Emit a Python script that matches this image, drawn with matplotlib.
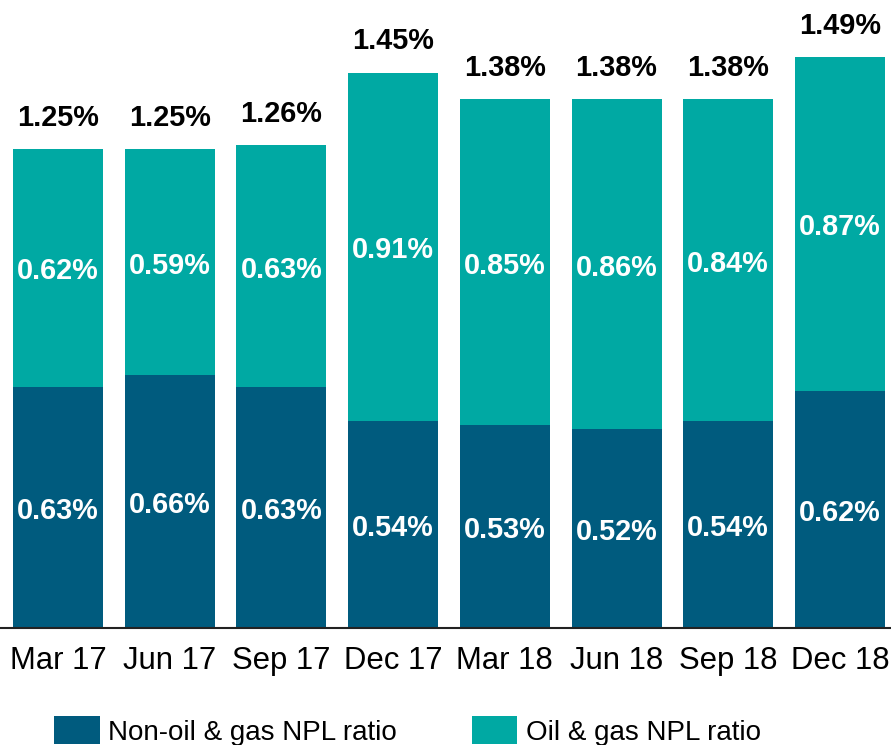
import matplotlib
matplotlib.use("Agg")
import matplotlib.pyplot as plt
import numpy as np

categories = ["Mar 17", "Jun 17", "Sep 17", "Dec 17", "Mar 18", "Jun 18", "Sep 18", "Dec 18"]
non_oil = [0.63, 0.66, 0.63, 0.54, 0.53, 0.52, 0.54, 0.62]
oil = [0.62, 0.59, 0.63, 0.91, 0.85, 0.86, 0.84, 0.87]
totals = [1.25, 1.25, 1.26, 1.45, 1.38, 1.38, 1.38, 1.49]

dark = "#005B7E"
teal = "#00A9A3"

plt.rcParams['font.family'] = ['Liberation Sans', 'DejaVu Sans']

W, H = 891, 745
fig = plt.figure(figsize=(W / 100, H / 100), dpi=100)
ax = fig.add_axes([0, 1 - 628 / H, 1, 628 / H])

x = np.arange(len(categories))
b1 = ax.bar(x, non_oil, width=0.806, color=dark, label="Non-oil & gas NPL ratio")
b2 = ax.bar(x, oil, width=0.806, bottom=non_oil, color=teal, label="Oil & gas NPL ratio")

for i in range(len(categories)):
    ax.annotate(f"{non_oil[i]:.2f}%", (x[i], non_oil[i] / 2), xytext=(0, -2.5),
                textcoords="offset points", ha="center", va="center",
                color="white", fontsize=20.8, fontweight="bold")
    ax.annotate(f"{oil[i]:.2f}%", (x[i], non_oil[i] + oil[i] / 2), xytext=(0, -2.5),
                textcoords="offset points", ha="center", va="center",
                color="white", fontsize=20.8, fontweight="bold")
    ax.annotate(f"{totals[i]:.2f}%", (x[i], totals[i]), xytext=(0, 22.5),
                textcoords="offset points", ha="center", va="center",
                color="black", fontsize=20.8, fontweight="bold")

ax.set_xlim(-0.519, 7.457)
ax.set_ylim(0, 628 / 383.0)
ax.set_xticks(x)
ax.set_xticklabels(categories, fontsize=22.4)
ax.tick_params(axis="x", length=0, pad=13)
ax.set_yticks([])
for s in ["top", "right", "left"]:
    ax.spines[s].set_visible(False)
ax.spines["bottom"].set_color("#222222")
ax.spines["bottom"].set_linewidth(1.5)

fig.legend(handles=[b1, b2], loc="upper left", bbox_to_anchor=(54 / W, 1 - 716 / H),
           ncol=2, frameon=False, fontsize=20, handlelength=1.65, handleheight=1.2,
           handletextpad=0.29, columnspacing=2.7, borderpad=0, borderaxespad=0)

fig.savefig("out.png", dpi=100)
